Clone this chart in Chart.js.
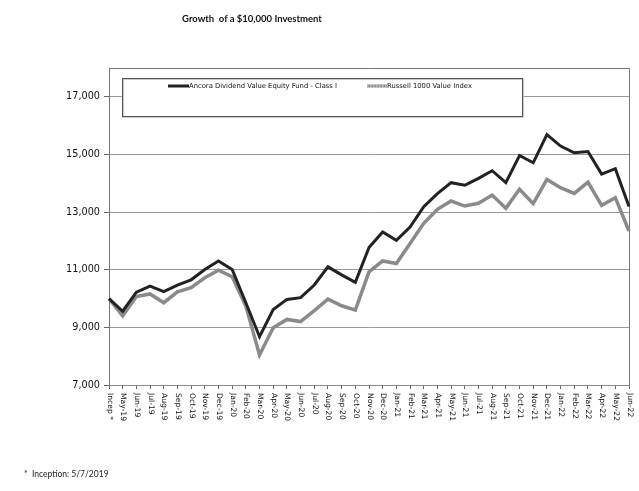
<!DOCTYPE html>
<html>
<head>
<meta charset="utf-8">
<script src="https://cdn.jsdelivr.net/npm/chart.js@4"></script>
<style>
  body { margin: 0; background: #fff; }
  #wrap { position: relative; width: 639px; height: 491px; }
  #title { position: absolute; left: 0; width: 504px; top: 13px; text-align: center;
           font: bold 9.5px Lato, "Liberation Sans", sans-serif; color: #111; }
  #note { position: absolute; left: 24px; top: 469px;
          font: 8.5px Lato, "Liberation Sans", sans-serif; color: #222; }
</style>
</head>
<body>
<div id="wrap">
  <canvas id="myCanvas" width="639" height="491"></canvas>
  <div id="title">Growth&nbsp; of a $10,000 Investment</div>
  <div id="note">*&nbsp; Inception: 5/7/2019</div>
</div>
<script>
const labels = ['Incep *', 'May-19', 'Jun-19', 'Jul-19', 'Aug-19', 'Sep-19', 'Oct-19', 'Nov-19', 'Dec-19',
  'Jan-20', 'Feb-20', 'Mar-20', 'Apr-20', 'May-20', 'Jun-20', 'Jul-20', 'Aug-20', 'Sep-20', 'Oct-20', 'Nov-20', 'Dec-20',
  'Jan-21', 'Feb-21', 'Mar-21', 'Apr-21', 'May-21', 'Jun-21', 'Jul-21', 'Aug-21', 'Sep-21', 'Oct-21', 'Nov-21', 'Dec-21',
  'Jan-22', 'Feb-22', 'Mar-22', 'Apr-22', 'May-22', 'Jun-22'];

const fund = [10000, 9560, 10220, 10430, 10240, 10465, 10650, 11010, 11300,
  11010, 9855, 8675, 9620, 9970, 10030, 10470, 11100, 10820, 10560, 11770, 12310,
  12020, 12480, 13190, 13640, 14020, 13930, 14170, 14435, 14020, 14965, 14710, 15690,
  15290, 15060, 15100, 14320, 14505, 13190];

const russell = [10000, 9400, 10070, 10160, 9855, 10235, 10375, 10720, 10985,
  10755, 9740, 8040, 8990, 9275, 9200, 9580, 9980, 9750, 9600, 10925, 11305,
  11215, 11910, 12610, 13095, 13385, 13210, 13305, 13590, 13130, 13790, 13295, 14135,
  13845, 13650, 14040, 13235, 13500, 12345];

const yTicks = [7000, 9000, 11000, 13000, 15000, 17000];
const seriesNames = ['Ancora Dividend Value Equity Fund - Class I', 'Russell 1000 Value Index'];

// frame, rotated x labels and the boxed legend
const extras = {
  id: 'extras',
  beforeDatasetsDraw(chart) {
    const ctx = chart.ctx, a = chart.chartArea;
    ctx.save();
    ctx.strokeStyle = '#777';
    ctx.lineWidth = 1;
    ctx.beginPath();
    ctx.moveTo(a.left, a.top + 0.5);
    ctx.lineTo(a.right + 0.5, a.top + 0.5);
    ctx.lineTo(a.right + 0.5, a.bottom);
    ctx.stroke();
    ctx.restore();
  },
  afterDraw(chart) {
    const ctx = chart.ctx, x = chart.scales.x;
    ctx.save();
    ctx.fillStyle = '#111';
    ctx.font = '7.6px "DejaVu Sans", sans-serif';
    ctx.textAlign = 'left';
    ctx.textBaseline = 'middle';
    labels.forEach((l, i) => {
      ctx.save();
      ctx.translate(x.getPixelForValue(i) + 0.5, 393);
      ctx.rotate(Math.PI / 2);
      ctx.fillText(l, 0, 0);
      ctx.restore();
    });

    // legend box
    const bx = 122, by = 78, bw = 400, bh = 38;
    ctx.fillStyle = '#fff';
    ctx.fillRect(bx, by, bw, bh);
    ctx.strokeStyle = '#bbb';
    ctx.lineWidth = 1.5;
    ctx.strokeRect(bx + 1, by + 1, bw, bh);
    ctx.strokeStyle = '#555';
    ctx.lineWidth = 1;
    ctx.strokeRect(bx + 0.5, by + 0.5, bw, bh);

    const ly = 86;
    ctx.lineWidth = 3;
    ctx.strokeStyle = '#222';
    ctx.beginPath(); ctx.moveTo(168, ly); ctx.lineTo(189, ly); ctx.stroke();
    ctx.strokeStyle = '#8a8a8a';
    ctx.beginPath(); ctx.moveTo(367, ly); ctx.lineTo(387, ly); ctx.stroke();
    ctx.lineWidth = 1.2;
    ctx.strokeStyle = '#ececec';
    ctx.setLineDash([1.5, 1.5]);
    ctx.beginPath(); ctx.moveTo(367, ly); ctx.lineTo(387, ly); ctx.stroke();
    ctx.setLineDash([]);

    ctx.fillStyle = '#111';
    ctx.font = '6.8px "DejaVu Sans", sans-serif';
    ctx.fillText(seriesNames[0], 189, ly);
    ctx.fillText(seriesNames[1], 387, ly);
    ctx.restore();
  }
};

new Chart(document.getElementById('myCanvas').getContext('2d'), {
  type: 'line',
  data: {
    labels: labels,
    datasets: [
      { label: seriesNames[0], data: fund, borderColor: '#222', borderWidth: 3, pointRadius: 0, tension: 0 },
      { label: seriesNames[1], data: russell, borderColor: '#8a8a8a', borderWidth: 3.5, pointRadius: 0, tension: 0 },
      { label: 'r-inner', data: russell, borderColor: '#ececec', borderWidth: 1.2, borderDash: [1.5, 1.5], pointRadius: 0, tension: 0 }
    ]
  },
  options: {
    responsive: false,
    animation: false,
    layout: { padding: { left: 0, right: 10, top: 68, bottom: 0 } },
    plugins: { legend: { display: false }, tooltip: { enabled: false } },
    scales: {
      x: {
        offset: false,
        grid: { drawOnChartArea: false, drawTicks: true, tickLength: 4, tickColor: '#666' },
        border: { color: '#888' },
        ticks: { display: false, autoSkip: false },
        afterFit: s => { s.height = 106; }
      },
      y: {
        min: 7000,
        max: 18000,
        afterBuildTicks: s => { s.ticks = yTicks.map(v => ({ value: v })); },
        grid: { color: '#999', tickLength: 5, tickColor: '#666' },
        border: { color: '#777' },
        ticks: {
          color: '#111',
          padding: 4,
          font: { family: '"DejaVu Sans", sans-serif', size: 9.7 },
          callback: v => v.toLocaleString('en-US')
        },
        afterFit: s => { s.width = 109; }
      }
    }
  },
  plugins: [extras]
});
</script>
</body>
</html>
